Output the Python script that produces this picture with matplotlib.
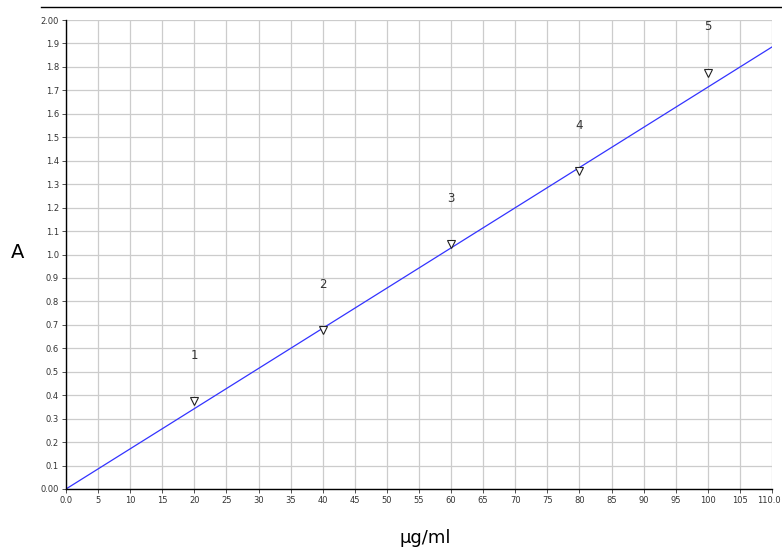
import matplotlib
matplotlib.use("Agg")
import matplotlib.pyplot as plt
import matplotlib.transforms as mtransforms
import numpy as np

conc = [20, 40, 60, 80, 100]
absorb = [0.375, 0.678, 1.045, 1.356, 1.776]
point_labels = ["1", "2", "3", "4", "5"]
fit_x = [0, 110]
fit_y = [0.0, 1.885]

x_ticks = list(range(0, 111, 5))
x_tick_labels = ["0.0"] + [str(v) for v in x_ticks[1:-1]] + ["110.0"]
y_ticks = [round(i * 0.1, 1) for i in range(21)]
y_tick_labels = ["0.00"] + [f"{v:.1f}" for v in y_ticks[1:-1]] + ["2.00"]

fig = plt.figure(figsize=(7.82, 5.54), dpi=100)
ax = fig.add_axes([66/782, (554-489)/554, 706/782, 469/554])

ax.plot(fit_x, fit_y, color="#3333ff", lw=0.9, zorder=2)
ax.plot(conc, absorb, ls="none", marker="v", ms=6, mfc="white", mec="#222222", mew=0.8, zorder=3)
for x, y, t in zip(conc, absorb, point_labels):
    ax.annotate(t, (x, y), xytext=(0, 33), textcoords="offset points",
                ha="center", va="center", fontsize=8.5, color="#333333")

ax.set_xlim(0, 110)
ax.set_ylim(0, 2.0)
ax.set_xticks(x_ticks)
ax.set_xticklabels(x_tick_labels)
ax.set_yticks(y_ticks)
ax.set_yticklabels(y_tick_labels)
ax.tick_params(axis="both", labelsize=6, colors="#333333", length=3, width=0.6, pad=2)
ax.grid(True, color="#cccccc", lw=0.9)
ax.set_axisbelow(True)
for s in ["top", "right"]:
    ax.spines[s].set_visible(False)
for s in ["left", "bottom"]:
    ax.spines[s].set_color("black")
    ax.spines[s].set_linewidth(1.0)

last = ax.get_xticklabels()[-1]
last.set_horizontalalignment("right")
last.set_transform(last.get_transform() + mtransforms.ScaledTranslation(9/100, 0, fig.dpi_scale_trans))

fig.text(18/782, 1 - 253/554, "A", fontsize=14, ha="center", va="center")
fig.text(425/782, 1 - 538/554, "µg/ml", fontsize=13, ha="center", va="center")
fig.add_artist(plt.Line2D([41/782, 1.0], [1 - 7/554, 1 - 7/554], color="black", lw=1.0))

fig.savefig("out.png", dpi=100)
